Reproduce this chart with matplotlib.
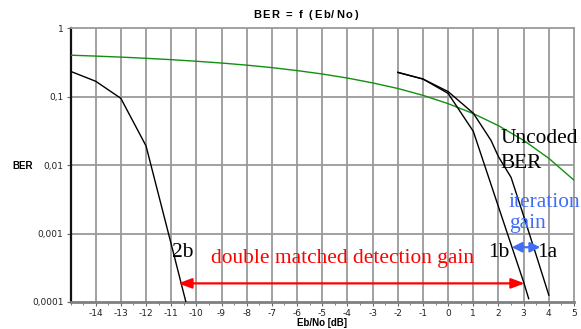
import matplotlib
matplotlib.use("Agg")
import matplotlib.pyplot as plt
from matplotlib.ticker import FixedLocator, NullFormatter, MultipleLocator

# ---- data ----
ebno_uncoded = [-15, -14, -13, -12, -11, -10, -9, -8, -7, -6, -5, -4, -3, -2, -1, 0, 1, 2, 3, 4, 5]
ber_uncoded = [0.401, 0.389, 0.376, 0.361, 0.345, 0.327, 0.308, 0.287, 0.264, 0.239, 0.213,
               0.186, 0.158, 0.131, 0.104, 0.0786, 0.0563, 0.0375, 0.0229, 0.0125, 0.0060]

ebno_2b = [-15, -14, -13, -12, -11, -10]
ber_2b = [0.233, 0.167, 0.094, 0.019, 7.0e-4, 2.5e-5]

ebno_1a = [-2, -1, 0, 1, 1.7, 2, 2.5, 3, 3.5, 4]
ber_1a = [0.225, 0.18, 0.118, 0.057, 0.023, 0.0132, 0.0066, 0.0018, 4.8e-4, 1.26e-4]

ebno_1b = [-2, -1, 0, 1, 2, 3, 3.2]
ber_1b = [0.225, 0.18, 0.111, 0.031, 0.00245, 1.95e-4, 1.12e-4]

xticks = list(range(-14, 6))
yticks = [1e-4, 1e-3, 1e-2, 1e-1, 1]
ytick_labels = ["0,0001", "0,001", "0,01", "0,1", "1"]

# ---- figure ----
fig = plt.figure(figsize=(5.81, 3.29), dpi=100)
ax = fig.add_axes([70.5 / 581, 1 - 302 / 329, (574 - 70.5) / 581, (302 - 28) / 329])

ax.set_yscale("log")
ax.set_xlim(-15, 5)
ax.set_ylim(1e-4, 1)

grid_c = "#9a9a9a"
ax.xaxis.set_major_locator(FixedLocator(xticks))
ax.xaxis.set_minor_locator(MultipleLocator(0.5))
ax.yaxis.set_major_locator(FixedLocator(yticks))
ax.yaxis.set_minor_locator(FixedLocator([]))
ax.yaxis.set_minor_formatter(NullFormatter())
ax.set_yticklabels(ytick_labels)
ax.set_xticklabels([str(v) for v in xticks])

for v in range(-14, 5):
    ax.axvline(v, color=grid_c, lw=1.3, zorder=0)
for v in [1e-3, 1e-2, 1e-1]:
    ax.axhline(v, color=grid_c, lw=1.3, zorder=0)

ax.tick_params(axis="both", which="major", labelsize=6.5, length=3, width=0.8,
               color="#666666", labelcolor="#222222", pad=2)
ax.tick_params(axis="x", which="minor", length=2, width=0.6, color="#666666")

for s in ["top", "right"]:
    ax.spines[s].set_color(grid_c)
    ax.spines[s].set_linewidth(1.3)
ax.spines["left"].set_color("#111111")
ax.spines["left"].set_linewidth(1.6)
ax.spines["bottom"].set_color("#808080")
ax.spines["bottom"].set_linewidth(2.0)

# curves
ax.plot(ebno_uncoded, ber_uncoded, color="#119011", lw=1.0, zorder=3)
ax.plot(ebno_2b, ber_2b, color="black", lw=1.0, zorder=4)
ax.plot(ebno_1a, ber_1a, color="black", lw=1.0, zorder=4)
ax.plot(ebno_1b, ber_1b, color="black", lw=1.0, zorder=4)

# letter-spaced title
def spaced_text(fig, text, cx, cy, extra_px, **kw):
    renderer = fig.canvas.get_renderer()
    widths = []
    for ch in text:
        t = fig.text(0, 0, ch if ch != " " else "a", **kw)
        bb = t.get_window_extent(renderer)
        widths.append(bb.width * (0.55 if ch == " " else 1.0))
        t.remove()
    total = sum(widths) + extra_px * (len(text) - 1)
    x = cx - total / 2
    for ch, w in zip(text, widths):
        if ch != " ":
            fig.text(x / fig.bbox.width, cy, ch, ha="left", va="center", **kw)
        x += w + extra_px

spaced_text(fig, "BER = f (Eb/No)", 305, 1 - 15 / 329, 1.5,
            fontsize=8, fontweight="bold", family="Liberation Sans")
fig.text(12 / 581, 1 - 166 / 329, "BER", ha="left", va="center",
         fontsize=7, fontweight="bold", family="Liberation Sans")
fig.text(321.7 / 581, 1 - 322.5 / 329, "Eb/No [dB]", ha="center", va="center",
         fontsize=7, fontweight="bold", family="Liberation Sans")

serif = "Liberation Serif"
fs = 15.4
ax.text(2.08, 0.0209, "Uncoded", fontsize=fs, family=serif, color="black", va="baseline", zorder=6)
ax.text(2.08, 0.00904, "BER", fontsize=fs, family=serif, color="black", va="baseline", zorder=6)
blue = "#3f6ef5"
ax.text(2.41, 0.00246, "iteration", fontsize=fs, family=serif, color=blue, va="baseline", zorder=6)
ax.text(2.41, 0.0012, "gain", fontsize=fs, family=serif, color=blue, va="baseline", zorder=6)
ax.text(1.58, 4.58e-4, "1b", fontsize=fs, family=serif, color="black", va="baseline", zorder=6)
ax.text(3.52, 4.58e-4, "1a", fontsize=fs, family=serif, color="black", va="baseline", zorder=6)
ax.text(-10.96, 4.58e-4, "2b", fontsize=fs, family=serif, color="black", va="baseline", zorder=6)
ax.text(-9.42, 3.67e-4, "double matched detection gain", fontsize=fs, family=serif,
        color="#ff0000", va="baseline", zorder=6)

ax.annotate("", xy=(-10.72, 1.87e-4), xytext=(3.04, 1.87e-4),
            arrowprops=dict(arrowstyle="<|-|>,head_length=0.8,head_width=0.3",
                            color="#ff0000", lw=1.6, shrinkA=0, shrinkB=0), zorder=6)
ax.annotate("", xy=(2.53, 6.3e-4), xytext=(3.66, 6.3e-4),
            arrowprops=dict(arrowstyle="<|-|>,head_length=0.6,head_width=0.3",
                            color=blue, lw=1.6, shrinkA=0, shrinkB=0), zorder=6)

fig.savefig("out.png", dpi=100)
